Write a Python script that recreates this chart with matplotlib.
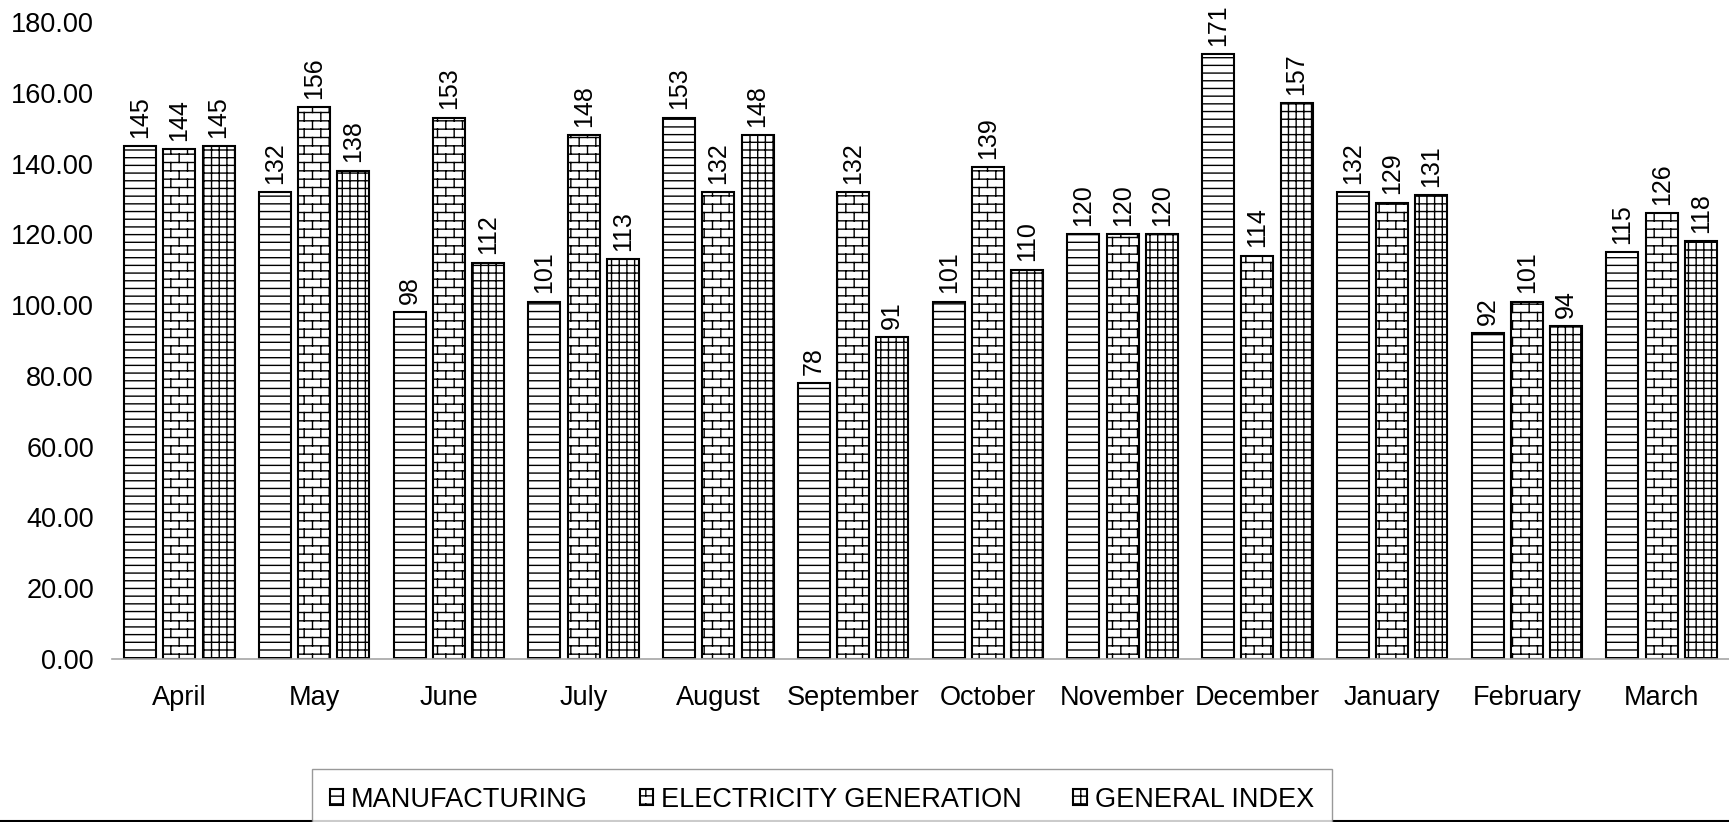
import numpy as np
import matplotlib
matplotlib.use("Agg")
import matplotlib.pyplot as plt
import matplotlib.hatch as mhatch
from matplotlib.path import Path
from matplotlib.lines import Line2D

months = ["April", "May", "June", "July", "August", "September", "October",
          "November", "December", "January", "February", "March"]
manufacturing = [145, 132, 98, 101, 153, 78, 101, 120, 171, 132, 92, 115]
electricity = [144, 156, 153, 148, 132, 132, 139, 120, 114, 129, 101, 126]
general_index = [145, 138, 112, 113, 148, 91, 110, 120, 157, 131, 94, 118]
series_names = ["MANUFACTURING", "ELECTRICITY GENERATION", "GENERAL INDEX"]
y_ticks = [0, 20, 40, 60, 80, 100, 120, 140, 160, 180]


# custom hatches: horizontal lines, vertical lines and a brick pattern
class HLines(mhatch.HatchPatternBase):
    def __init__(self, hatch, density):
        self.num_lines = int((hatch.count('-') + hatch.count('+')) * 6.5)
        self.num_vertices = self.num_lines * 2

    def set_vertices_and_codes(self, vertices, codes):
        steps = (np.arange(self.num_lines) + 0.5) / self.num_lines
        vertices[0::2, 0] = 0.0
        vertices[0::2, 1] = steps
        vertices[1::2, 0] = 1.0
        vertices[1::2, 1] = steps
        codes[0::2] = Path.MOVETO
        codes[1::2] = Path.LINETO


class VLines(mhatch.HatchPatternBase):
    def __init__(self, hatch, density):
        self.num_lines = int((hatch.count('|') + hatch.count('+')) * 6.5)
        self.num_vertices = self.num_lines * 2

    def set_vertices_and_codes(self, vertices, codes):
        steps = (np.arange(self.num_lines) + 0.5) / self.num_lines
        vertices[0::2, 0] = steps
        vertices[0::2, 1] = 0.0
        vertices[1::2, 0] = steps
        vertices[1::2, 1] = 1.0
        codes[0::2] = Path.MOVETO
        codes[1::2] = Path.LINETO


class Bricks(mhatch.HatchPatternBase):
    def __init__(self, hatch, density):
        self.num_rows = hatch.count('o') * 6
        self.num_cols = self.num_rows // 2
        if self.num_rows:
            self.num_vertices = self.num_rows * 2 + (self.num_rows + 1) * self.num_cols * 2
        else:
            self.num_vertices = 0

    def set_vertices_and_codes(self, vertices, codes):
        n, m = self.num_rows, self.num_cols
        ys = (np.arange(n) + 0.5) / n
        k = 2 * n
        vertices[0:k:2, 0] = 0.0
        vertices[0:k:2, 1] = ys
        vertices[1:k:2, 0] = 1.0
        vertices[1:k:2, 1] = ys
        segs = []
        for r in range(n + 1):
            y0 = max((r - 0.5) / n, 0.0)
            y1 = min((r + 0.5) / n, 1.0)
            shift = 0.5 / m if r % 2 else 0.0
            for c in range(m):
                x = (c + 0.25) / m + shift
                segs.append((x, y0))
                segs.append((x, y1))
        vertices[k:] = np.array(segs)
        codes[0::2] = Path.MOVETO
        codes[1::2] = Path.LINETO


mhatch._hatch_types[:] = [HLines, VLines, Bricks]

plt.rcParams['font.family'] = ['Liberation Sans', 'DejaVu Sans']
plt.rcParams['hatch.linewidth'] = 1.0
plt.rcParams['hatch.color'] = 'black'

fig = plt.figure(figsize=(17.29, 8.22), dpi=100)
ax = fig.add_axes([0.0648, 0.1983, 0.9352, 0.7749])

x = np.arange(len(months))
step = 0.291
width = 0.238
hatches = ['--', 'oo', '++']
data = [manufacturing, electricity, general_index]

for i, (vals, name, h) in enumerate(zip(data, series_names, hatches)):
    bars = ax.bar(x + (i - 1) * step, vals, width, label=name, color='white',
                  edgecolor='black', linewidth=1.5, hatch=h)
    ax.bar_label(bars, labels=[f"{v:.0f}" for v in vals], rotation=90,
                 padding=6, fontsize=18)

ax.set_xlim(-0.5, len(months) - 0.5)
ax.set_ylim(0, 180)
ax.set_yticks(y_ticks)
ax.set_yticklabels([f"{t:.2f}" for t in y_ticks])
ax.set_xticks(x)
ax.set_xticklabels(months)
ax.tick_params(axis='y', length=0, pad=13, labelsize=19.5)
ax.tick_params(axis='x', length=0, pad=19, labelsize=19.5)
for s in ['left', 'top', 'right']:
    ax.spines[s].set_visible(False)
ax.spines['bottom'].set_color('#a6a6a6')
ax.spines['bottom'].set_linewidth(1.2)

leg = fig.legend(loc='upper center', bbox_to_anchor=(0.4754, 1 - 769 / 822),
                 ncol=3, fontsize=19.5, frameon=True, fancybox=False,
                 edgecolor='#808080', borderpad=0.65, borderaxespad=0,
                 handlelength=0.5, handleheight=0.5, handletextpad=0.3,
                 columnspacing=1.9)
leg.get_frame().set_linewidth(1.0)

fig.add_artist(Line2D([0, 1], [0.0012, 0.0012], transform=fig.transFigure,
                      color='black', linewidth=1.5))

fig.savefig("out.png", dpi=100)
